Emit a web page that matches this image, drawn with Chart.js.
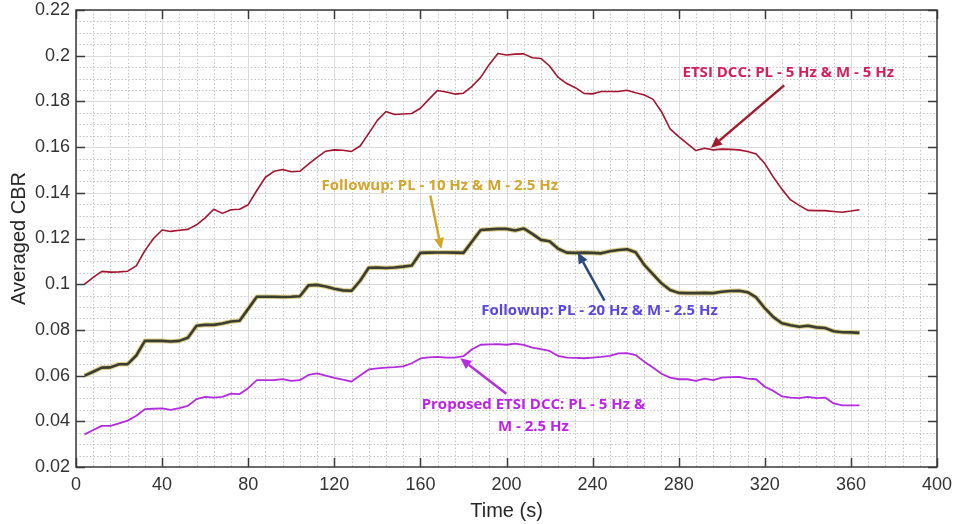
<!DOCTYPE html>
<html>
<head>
<meta charset="utf-8">
<title>Averaged CBR over time</title>
<script src="https://cdn.jsdelivr.net/npm/chart.js@4/dist/chart.umd.min.js"></script>
<style>
  html, body { margin: 0; padding: 0; background: #ffffff; }
  #wrap { width: 956px; height: 524px; }
</style>
</head>
<body>
<div id="wrap"><canvas id="cbr" width="956" height="524"></canvas></div>
<script>
// Sampling instants (s): one averaged CBR value every 4 s
const timeSec = [
  4, 8, 12, 16, 20, 24, 28, 32, 36, 40, 44, 48, 52, 56, 60, 64, 68, 72, 76, 80,
  84, 88, 92, 96, 100, 104, 108, 112, 116, 120, 124, 128, 132, 136, 140, 144, 148, 152, 156, 160,
  164, 168, 172, 176, 180, 184, 188, 192, 196, 200, 204, 208, 212, 216, 220, 224, 228, 232, 236, 240,
  244, 248, 252, 256, 260, 264, 268, 272, 276, 280, 284, 288, 292, 296, 300, 304, 308, 312, 316, 320,
  324, 328, 332, 336, 340, 344, 348, 352, 356, 360, 364
];

// ETSI DCC: PL - 5 Hz & M - 5 Hz
const etsiDcc = [
  0.100, 0.103, 0.1056, 0.1053, 0.1054, 0.1057, 0.108, 0.1147, 0.120, 0.1237,
  0.1231, 0.1236, 0.124, 0.126, 0.129, 0.1328, 0.131, 0.1326, 0.1328, 0.1348,
  0.141, 0.1468, 0.1494, 0.1502, 0.1492, 0.1494, 0.1525, 0.1555, 0.1582, 0.1588,
  0.1586, 0.1581, 0.1605, 0.166, 0.1717, 0.1756, 0.1743, 0.1745, 0.1747, 0.177,
  0.181, 0.1848, 0.1841, 0.1832, 0.1836, 0.1866, 0.1905, 0.1962, 0.201, 0.2003,
  0.2007, 0.2008, 0.1991, 0.1988, 0.1955, 0.1905, 0.1878, 0.186, 0.1835, 0.1833,
  0.1843, 0.1843, 0.1843, 0.1849, 0.1838, 0.1828, 0.181, 0.1755, 0.168, 0.1646,
  0.1615, 0.1585, 0.1595, 0.1588, 0.1591, 0.159, 0.1588, 0.1581, 0.157, 0.1528,
  0.1468, 0.1415, 0.1369, 0.1345, 0.1323, 0.1322, 0.1322, 0.1318, 0.1315, 0.132,
  0.1326
];

// Followup: PL - 10 Hz & M - 2.5 Hz
const followup10Hz = [
  0.060, 0.0617, 0.0635, 0.0636, 0.065, 0.065, 0.0688, 0.0752, 0.0752, 0.0752,
  0.0749, 0.0752, 0.0766, 0.0818, 0.0822, 0.0822, 0.0828, 0.0837, 0.084, 0.0892,
  0.0945, 0.0945, 0.0945, 0.0944, 0.0945, 0.0947, 0.0995, 0.0997, 0.099, 0.098,
  0.0973, 0.0971, 0.1015, 0.1072, 0.1073, 0.1071, 0.1073, 0.1077, 0.1082, 0.1137,
  0.1138, 0.1139, 0.1139, 0.1138, 0.1137, 0.1187, 0.1237, 0.124, 0.1242, 0.1242,
  0.1235, 0.1244, 0.122, 0.1194, 0.1188, 0.1155, 0.1138, 0.1137, 0.1138, 0.1137,
  0.1135, 0.1144, 0.115, 0.1153, 0.114, 0.1085, 0.1044, 0.1004, 0.0975, 0.0962,
  0.0961, 0.0961, 0.0962, 0.0961, 0.0967, 0.097, 0.0971, 0.0965, 0.0942, 0.0895,
  0.0856, 0.0829, 0.082, 0.0814, 0.0818, 0.0811, 0.0808, 0.0794, 0.079, 0.0789,
  0.0787
];

// Followup: PL - 20 Hz & M - 2.5 Hz (runs on top of the 10 Hz curve)
const followup20Hz = [
  0.060, 0.0617, 0.0635, 0.0636, 0.065, 0.065, 0.0688, 0.0752, 0.0752, 0.0752,
  0.0749, 0.0752, 0.0766, 0.0818, 0.0822, 0.0822, 0.0828, 0.0837, 0.084, 0.0892,
  0.0945, 0.0945, 0.0945, 0.0944, 0.0945, 0.0947, 0.0995, 0.0997, 0.099, 0.098,
  0.0973, 0.0971, 0.1015, 0.1072, 0.1073, 0.1071, 0.1073, 0.1077, 0.1082, 0.1137,
  0.1138, 0.1139, 0.1139, 0.1138, 0.1137, 0.1187, 0.1237, 0.124, 0.1242, 0.1242,
  0.1235, 0.1244, 0.122, 0.1194, 0.1188, 0.1155, 0.1138, 0.1137, 0.1138, 0.1137,
  0.1135, 0.1144, 0.115, 0.1153, 0.114, 0.1085, 0.1044, 0.1004, 0.0975, 0.0962,
  0.0961, 0.0961, 0.0962, 0.0961, 0.0967, 0.097, 0.0971, 0.0965, 0.0942, 0.0895,
  0.0856, 0.0829, 0.082, 0.0814, 0.0818, 0.0811, 0.0808, 0.0794, 0.079, 0.0789,
  0.0787
];

// Proposed ETSI DCC: PL - 5 Hz & M - 2.5 Hz
const proposedDcc = [
  0.0343, 0.0362, 0.038, 0.038, 0.0391, 0.0403, 0.0424, 0.0453, 0.0455, 0.0457,
  0.045, 0.0458, 0.0468, 0.0497, 0.0507, 0.0504, 0.0507, 0.0521, 0.0519, 0.0545,
  0.058, 0.058, 0.058, 0.0585, 0.0577, 0.058, 0.0603, 0.061, 0.060, 0.059,
  0.0582, 0.0574, 0.060, 0.0627, 0.0632, 0.0635, 0.0637, 0.064, 0.0654, 0.0675,
  0.068, 0.0682, 0.0679, 0.0679, 0.0685, 0.0715, 0.0735, 0.0737, 0.0738, 0.0735,
  0.074, 0.0734, 0.0722, 0.0716, 0.0708, 0.0686, 0.0679, 0.0678, 0.0676, 0.0679,
  0.0682, 0.0686, 0.0697, 0.0698, 0.069, 0.0661, 0.0635, 0.0608, 0.0591, 0.0584,
  0.0584, 0.0577, 0.0587, 0.058, 0.0591, 0.0593, 0.0594, 0.0587, 0.0584, 0.0551,
  0.0533, 0.0509, 0.0504, 0.0501, 0.0507, 0.0501, 0.0504, 0.0478, 0.047, 0.047,
  0.047
];

// Axis ranges and tick spacing
const xTicks = [0, 40, 80, 120, 160, 200, 240, 280, 320, 360, 400];
const yTicks = [0.02, 0.04, 0.06, 0.08, 0.1, 0.12, 0.14, 0.16, 0.18, 0.2, 0.22];
const xMinorStep = 8;
const yMinorStep = 0.005;

const toPoints = vals => vals.map((v, i) => ({ x: timeSec[i], y: v }));

// Callout labels with arrows, placed in data coordinates (time, CBR)
const callouts = [
  { lines: ['ETSI DCC: PL - 5 Hz & M - 5 Hz'], text: [330.9, 0.1927], color: '#D41F5E',
    arrowFrom: [329.0, 0.1870], arrowTo: [295.0, 0.1597], arrowColor: '#A11B2B' },
  { lines: ['Followup: PL - 10 Hz & M - 2.5 Hz'], text: [169.0, 0.1430], color: '#D2A52B',
    arrowFrom: [164.6, 0.1388], arrowTo: [169.7, 0.1154], arrowColor: '#D2A52B' },
  { lines: ['Followup: PL - 20 Hz & M - 2.5 Hz'], text: [243.2, 0.0882], color: '#5B47E0',
    arrowFrom: [245.5, 0.0928], arrowTo: [233.1, 0.1139], arrowColor: '#2B4A7E' },
  { lines: ['Proposed ETSI DCC: PL - 5 Hz &', 'M - 2.5 Hz'], text: [212.5, 0.0472], color: '#BE22E6',
    arrowFrom: [199.9, 0.0521], arrowTo: [178.5, 0.0676], arrowColor: '#B42FDC' }
];

const FONT = "'Liberation Sans', Arial, Helvetica, sans-serif";

// Major (solid) and minor (dotted) grid, drawn under the curves
const gridPlugin = {
  id: 'matlabGrid',
  beforeDatasetsDraw(chart) {
    const { ctx, chartArea: a, scales: { x, y } } = chart;
    ctx.save();
    ctx.beginPath();
    ctx.rect(a.left, a.top, a.right - a.left, a.bottom - a.top);
    ctx.clip();
    // minor
    ctx.strokeStyle = '#c4c4c4';
    ctx.lineWidth = 1;
    ctx.setLineDash([1.5, 2]);
    for (let t = x.min; t <= x.max + 1e-9; t += xMinorStep) {
      if (Math.abs(t % 40) < 1e-9) continue;
      const px = Math.round(x.getPixelForValue(t)) + 0.5;
      ctx.beginPath(); ctx.moveTo(px, a.top); ctx.lineTo(px, a.bottom); ctx.stroke();
    }
    for (let k = 0; ; k++) {
      const v = y.min + k * yMinorStep;
      if (v > y.max + 1e-9) break;
      if (k % 4 === 0) continue;
      const py = Math.round(y.getPixelForValue(v)) + 0.5;
      ctx.beginPath(); ctx.moveTo(a.left, py); ctx.lineTo(a.right, py); ctx.stroke();
    }
    // major
    ctx.setLineDash([]);
    ctx.strokeStyle = '#dcdcdc';
    xTicks.forEach(t => {
      const px = Math.round(x.getPixelForValue(t)) + 0.5;
      ctx.beginPath(); ctx.moveTo(px, a.top); ctx.lineTo(px, a.bottom); ctx.stroke();
    });
    yTicks.forEach(v => {
      const py = Math.round(y.getPixelForValue(v)) + 0.5;
      ctx.beginPath(); ctx.moveTo(a.left, py); ctx.lineTo(a.right, py); ctx.stroke();
    });
    ctx.restore();
  }
};

// Axes box with inward tick marks on all four sides
const boxPlugin = {
  id: 'matlabBox',
  afterDatasetsDraw(chart) {
    const { ctx, chartArea: a, scales: { x, y } } = chart;
    const len = 9;
    ctx.save();
    ctx.strokeStyle = '#3a3a3a';
    ctx.lineWidth = 1.5;
    ctx.strokeRect(a.left, a.top, a.right - a.left, a.bottom - a.top);
    ctx.beginPath();
    xTicks.forEach(t => {
      const px = Math.round(x.getPixelForValue(t)) + 0.5;
      ctx.moveTo(px, a.bottom); ctx.lineTo(px, a.bottom - len);
      ctx.moveTo(px, a.top); ctx.lineTo(px, a.top + len);
    });
    yTicks.forEach(v => {
      const py = Math.round(y.getPixelForValue(v)) + 0.5;
      ctx.moveTo(a.left, py); ctx.lineTo(a.left + len, py);
      ctx.moveTo(a.right, py); ctx.lineTo(a.right - len, py);
    });
    ctx.stroke();
    ctx.restore();
  }
};

// Text callouts and their arrows
const calloutPlugin = {
  id: 'callouts',
  afterDraw(chart) {
    const { ctx, scales: { x, y } } = chart;
    ctx.save();
    callouts.forEach(c => {
      const x0 = x.getPixelForValue(c.arrowFrom[0]), y0 = y.getPixelForValue(c.arrowFrom[1]);
      const x1 = x.getPixelForValue(c.arrowTo[0]), y1 = y.getPixelForValue(c.arrowTo[1]);
      const ang = Math.atan2(y1 - y0, x1 - x0);
      const head = 11, half = 5;
      const bx = x1 - head * Math.cos(ang), by = y1 - head * Math.sin(ang);
      ctx.strokeStyle = c.arrowColor;
      ctx.fillStyle = c.arrowColor;
      ctx.lineWidth = 2.5;
      ctx.beginPath(); ctx.moveTo(x0, y0); ctx.lineTo(bx, by); ctx.stroke();
      ctx.beginPath();
      ctx.moveTo(x1, y1);
      ctx.lineTo(bx + half * Math.sin(ang), by - half * Math.cos(ang));
      ctx.lineTo(bx - half * Math.sin(ang), by + half * Math.cos(ang));
      ctx.closePath(); ctx.fill();

      ctx.fillStyle = c.color;
      ctx.font = "bold 15px 'Open Sans', 'Noto Sans', sans-serif";
      ctx.textAlign = 'center';
      ctx.textBaseline = 'middle';
      const tx = x.getPixelForValue(c.text[0]);
      const ty = y.getPixelForValue(c.text[1]);
      c.lines.forEach((ln, i) => ctx.fillText(ln, tx, ty + i * 22));
    });
    ctx.restore();
  }
};

new Chart(document.getElementById('cbr'), {
  type: 'line',
  data: {
    datasets: [
      { label: 'ETSI DCC: PL - 5 Hz & M - 5 Hz', data: toPoints(etsiDcc),
        borderColor: '#A2142F', borderWidth: 1.6, order: 0 },
      { label: 'Followup: PL - 20 Hz & M - 2.5 Hz', data: toPoints(followup20Hz),
        borderColor: '#3A3D33', borderWidth: 2.6, order: 1 },
      { label: 'Followup: PL - 10 Hz & M - 2.5 Hz', data: toPoints(followup10Hz),
        borderColor: '#DCCB80', borderWidth: 4.6, order: 2 },
      { label: 'Proposed ETSI DCC: PL - 5 Hz & M - 2.5 Hz', data: toPoints(proposedDcc),
        borderColor: '#B22BDE', borderWidth: 1.8, order: 0 }
    ]
  },
  options: {
    responsive: false,
    devicePixelRatio: 1,
    animation: false,
    events: [],
    elements: { point: { radius: 0 }, line: { tension: 0, fill: false, borderJoinStyle: 'round' } },
    layout: { padding: { top: 10, right: 19, left: 0, bottom: 0 } },
    plugins: { legend: { display: false }, tooltip: { enabled: false } },
    scales: {
      x: {
        type: 'linear', min: 0, max: 400,
        afterBuildTicks: s => { s.ticks = xTicks.map(v => ({ value: v })); },
        afterFit: s => { s.height = 57; s.paddingLeft = 0; s.paddingRight = 0; },
        grid: { display: false, drawTicks: false },
        border: { display: false },
        ticks: { color: '#333333', padding: 7, font: { family: FONT, size: 18 } },
        title: { display: true, text: 'Time (s)', color: '#262626',
                 font: { family: FONT, size: 20 }, padding: { top: 1, bottom: 1 } }
      },
      y: {
        type: 'linear', min: 0.02, max: 0.22,
        afterBuildTicks: s => { s.ticks = yTicks.map(v => ({ value: v })); },
        afterFit: s => { s.width = 76; s.paddingTop = 0; s.paddingBottom = 0; },
        grid: { display: false, drawTicks: false },
        border: { display: false },
        ticks: { color: '#333333', padding: 6, font: { family: FONT, size: 18 },
                 callback: v => parseFloat(Number(v).toFixed(2)).toString() },
        title: { display: true, text: 'Averaged CBR', color: '#262626',
                 font: { family: FONT, size: 20 }, padding: { top: 7, bottom: 7 } }
      }
    }
  },
  plugins: [gridPlugin, boxPlugin, calloutPlugin]
});
</script>
</body>
</html>
